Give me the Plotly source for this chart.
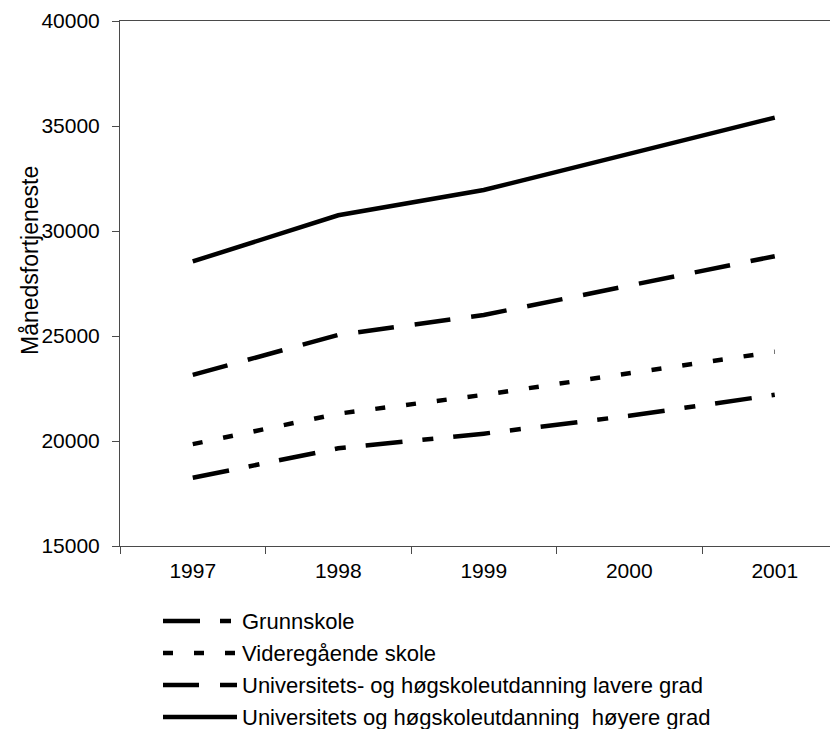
import plotly.graph_objects as go

# Average monthly earnings by education level, 1997-2001
years = ["1997", "1998", "1999", "2000", "2001"]
series_names = [
    "Grunnskole",
    "Videregående skole",
    "Universitets- og høgskoleutdanning lavere grad",
    "Universitets og høgskoleutdanning  høyere grad",
]
grunnskole = [18250, 19650, 20350, 21200, 22200]
videregaende = [19850, 21300, 22200, 23250, 24250]
lavere_grad = [23150, 25050, 26000, 27400, 28800]
hoyere_grad = [28550, 30750, 31950, 33700, 35400]
y_ticks = [15000, 20000, 25000, 30000, 35000, 40000]

series_values = [grunnskole, videregaende, lavere_grad, hoyere_grad]
dashes = ["37px,20px,11px,20px", "10px,21px", "36px,21px", "solid"]

W, H = 830, 729
ML, MR, MT, MB = 120, 0, 21, 183
PW, PH = W - ML - MR, H - MT - MB
FONT = "Liberation Sans, Arial, sans-serif"
FS = 21
AXIS_COLOR = "#4a4a4a"

fig = go.Figure()
for name, vals, dash in zip(series_names, series_values, dashes):
    fig.add_trace(go.Scatter(
        x=years, y=vals, name=name, mode="lines",
        line=dict(color="black", width=4.5, dash=dash),
        showlegend=False,
    ))

# Custom legend below the plot: long line samples with the series' dash styles
def px_to_paper_x(px):
    return (px - ML) / PW

def px_to_paper_y(py):
    return (H - MB - py) / PH

row_y = [621, 653, 685, 717]
shapes = []
annotations = []
for name, dash, ry in zip(series_names, dashes, row_y):
    yp = px_to_paper_y(ry)
    shapes.append(dict(
        type="line", xref="paper", yref="paper",
        x0=px_to_paper_x(163), x1=px_to_paper_x(237), y0=yp, y1=yp,
        line=dict(color="black", width=4.5, dash=dash),
    ))
    annotations.append(dict(
        text=name.replace("  ", "\u00a0\u00a0"), xref="paper", yref="paper",
        x=px_to_paper_x(240), y=yp, xanchor="left", yanchor="middle",
        showarrow=False, font=dict(family=FONT, size=22, color="black"),
    ))

# Y axis title
annotations.append(dict(
    text="Månedsfortjeneste", xref="paper", yref="paper",
    x=px_to_paper_x(30), y=px_to_paper_y(261), xanchor="center", yanchor="middle",
    textangle=-90, showarrow=False, font=dict(family=FONT, size=23, color="black"),
))

fig.update_layout(
    width=W, height=H,
    margin=dict(l=ML, r=MR, t=MT, b=MB, autoexpand=False),
    paper_bgcolor="white", plot_bgcolor="white",
    font=dict(family=FONT, size=FS, color="black"),
    shapes=shapes, annotations=annotations,
    showlegend=False,
)
fig.update_xaxes(
    type="category", categoryorder="array", categoryarray=years,
    range=[-0.5, -0.5 + PW / 145.5],
    showgrid=False, zeroline=False,
    showline=True, linecolor=AXIS_COLOR, linewidth=1, mirror=True,
    ticks="outside", tickson="boundaries", ticklen=7, tickcolor=AXIS_COLOR,
    tickfont=dict(family=FONT, size=FS, color="black"),
    ticklabelstandoff=6,
)
fig.update_yaxes(
    range=[15000, 40000], tickvals=y_ticks,
    ticktext=[str(v) for v in y_ticks],
    showgrid=False, zeroline=False,
    showline=True, linecolor=AXIS_COLOR, linewidth=1,
    ticks="outside", ticklen=7, tickcolor=AXIS_COLOR,
    tickfont=dict(family=FONT, size=FS, color="black"),
    ticklabelstandoff=8,
)

fig.write_html("out.html")
